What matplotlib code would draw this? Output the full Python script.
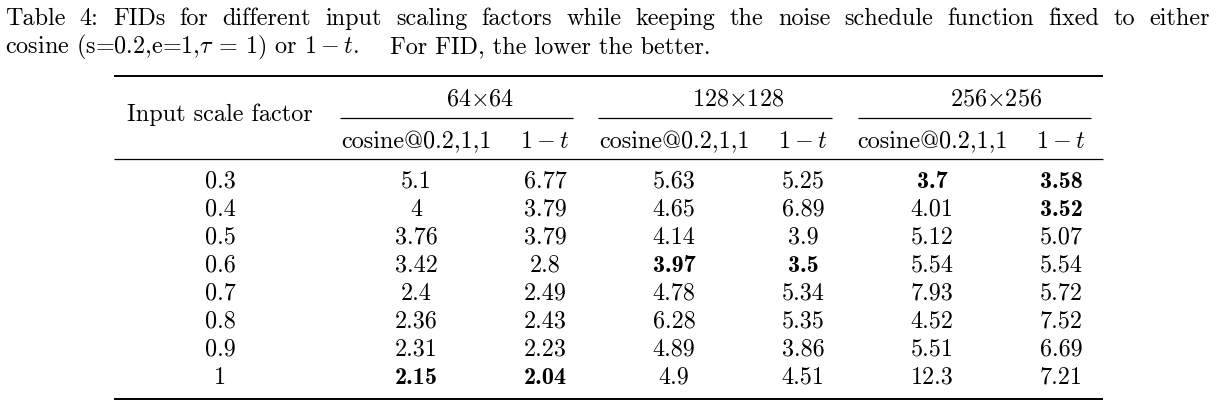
import matplotlib
matplotlib.use("Agg")
import matplotlib.pyplot as plt

plt.rcParams['mathtext.fontset'] = 'cm'
plt.rcParams['axes.unicode_minus'] = False

# ---- data ----
scale_factors = ["0.3", "0.4", "0.5", "0.6", "0.7", "0.8", "0.9", "1"]
resolutions = ["64$\\times$64", "128$\\times$128", "256$\\times$256"]
sub_headers = ["cosine@0.2,1,1", "$1-t$"]
cos_64 = [5.1, 4, 3.76, 3.42, 2.4, 2.36, 2.31, 2.15]
lin_64 = [6.77, 3.79, 3.79, 2.8, 2.49, 2.43, 2.23, 2.04]
cos_128 = [5.63, 4.65, 4.14, 3.97, 4.78, 6.28, 4.89, 4.9]
lin_128 = [5.25, 6.89, 3.9, 3.5, 5.34, 5.35, 3.86, 4.51]
cos_256 = [3.7, 4.01, 5.12, 5.54, 7.93, 4.52, 5.51, 12.3]
lin_256 = [3.58, 3.52, 5.07, 5.54, 5.72, 7.52, 6.69, 7.21]
# bold cells: (column index, row index)
bold_cells = [(0, 7), (1, 7), (2, 3), (3, 3), (4, 0), (5, 0), (5, 1)]

caption1 = "Table 4: FIDs for different input scaling factors while keeping the noise schedule function fixed to either"
caption2_parts = ["cosine (s=0.2,e=1,$\\tau$ = 1) or $1-t$.", "For FID, the lower the better."]

columns = [cos_64, lin_64, cos_128, lin_128, cos_256, lin_256]

W, H = 1219, 402
fig = plt.figure(figsize=(W / 100, H / 100), dpi=100)
ax = fig.add_axes([0, 0, 1, 1])
ax.set_xlim(0, W)
ax.set_ylim(H, 0)
ax.axis('off')

FS = 17.4
RM = 'cmr10'
BF = 'cmb10'

# caption line 1, justified
fig.canvas.draw()
renderer = fig.canvas.get_renderer()
words = caption1.split(" ")
objs = []
total = 0
for w in words:
    t = ax.text(0, 25, w, fontsize=FS, family=RM, va='baseline', ha='left')
    bb = t.get_window_extent(renderer)
    objs.append((t, bb.width))
    total += bb.width
left, right = 5, 1210
gap = (right - left - total) / (len(words) - 1)
x = left
for t, wdt in objs:
    t.set_x(x)
    x += wdt + gap

# caption line 2 (sentence space after the first part, as in TeX)
for px, part in zip([5, 390], caption2_parts):
    ax.text(px, 53, part, fontsize=FS, family=RM, va='baseline', ha='left')

# rules
ax.plot([114, 1103], [77, 77], color='black', lw=1.4, solid_capstyle='butt')
ax.plot([114, 1103], [160, 160], color='black', lw=0.9, solid_capstyle='butt')
ax.plot([114, 1103], [400, 400], color='black', lw=1.4, solid_capstyle='butt')
cmid = [(340, 573), (598, 832), (858, 1091)]
for a, b in cmid:
    ax.plot([a, b], [119, 119], color='black', lw=0.9, solid_capstyle='butt')

# headers
ax.text(220, 121, "Input scale factor", fontsize=FS, family=RM, ha='center', va='baseline')
col_x = [416, 545, 674, 803, 932, 1061]
group_x = [(col_x[0] + col_x[1]) / 2, (col_x[2] + col_x[3]) / 2, (col_x[4] + col_x[5]) / 2]
for gx, r in zip(group_x, resolutions):
    ax.text(gx, 106, r, fontsize=FS, family=RM, ha='center', va='baseline')
for i, cx in enumerate(col_x):
    ax.text(cx, 148, sub_headers[i % 2], fontsize=FS, family=RM, ha='center', va='baseline')

# body
row_y = [188 + 28 * i for i in range(len(scale_factors))]
for j, (lab, y) in enumerate(zip(scale_factors, row_y)):
    ax.text(220, y, lab, fontsize=FS, family=RM, ha='center', va='baseline')
    for i, col in enumerate(columns):
        fam = BF if (i, j) in bold_cells else RM
        ax.text(col_x[i], y, f"{col[j]:g}", fontsize=FS, family=fam, ha='center', va='baseline')

fig.savefig("out.png", dpi=100)
